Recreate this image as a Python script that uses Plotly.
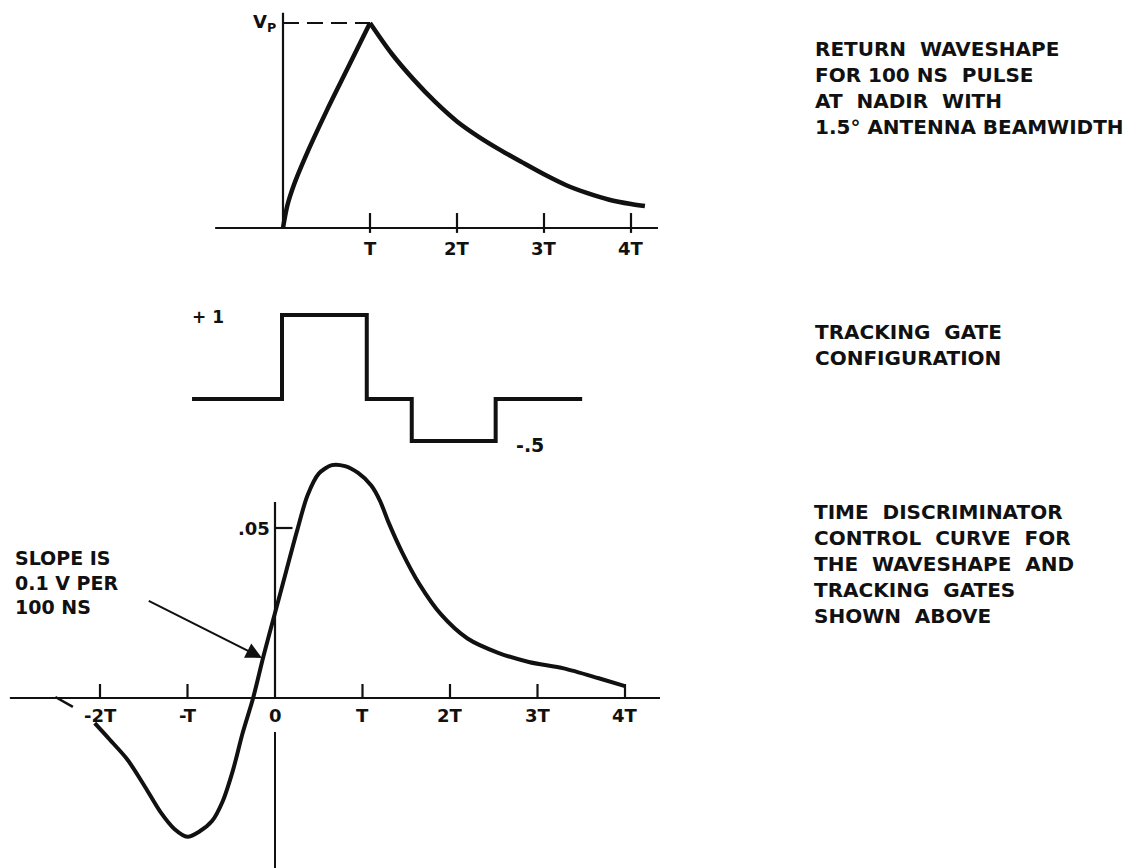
import plotly.graph_objects as go

# ---------------- data ----------------
# Panel 1: return waveshape (x in units of T, y in units of Vp)
wave_x = [0, 0.05, 0.125, 0.25, 0.5, 0.75, 1.0,
          1.25, 1.5, 1.75, 2.0, 2.25, 2.5, 2.75, 3.0, 3.25, 3.5, 3.75, 4.0, 4.16]
wave_y = [0, 0.11, 0.21, 0.34, 0.57, 0.785, 1.0,
          0.85, 0.725, 0.615, 0.52, 0.445, 0.38, 0.32, 0.262, 0.21, 0.17, 0.138, 0.117, 0.107]
wave_ticks = [1, 2, 3, 4]
wave_tick_labels = ["T", "2T", "3T", "4T"]

# Panel 2: tracking gate (step levels)
gate_x = [-1.04, 0, 0.98, 1.5, 2.47, 3.47]
gate_y = [0, 1, 0, -0.5, 0, 0]

# Panel 3: time discriminator control curve (x in T, y in volts)
disc_x = [-2.06, -1.89, -1.69, -1.5, -1.31, -1.15, -1.0, -0.86, -0.72, -0.6, -0.48,
          -0.37, -0.25, -0.13, 0, 0.13, 0.25, 0.37, 0.5, 0.65, 0.8, 0.95, 1.1, 1.2,
          1.3, 1.45, 1.65, 1.9, 2.2, 2.55, 2.9, 3.3, 3.7, 4.0]
disc_y = [-0.0074, -0.0122, -0.0180, -0.0255, -0.0335, -0.0385, -0.0408, -0.0392, -0.0362,
          -0.0305, -0.0212, -0.0103, 0, 0.0125, 0.025, 0.0375, 0.049, 0.0595, 0.0660, 0.0685,
          0.0682, 0.0662, 0.0625, 0.0580, 0.0515, 0.0430, 0.0335, 0.0245, 0.0175, 0.0133,
          0.0106, 0.0087, 0.0058, 0.0035]
disc_ticks = [-2, -1, 0, 1, 2, 3, 4]
disc_tick_labels = ["-2T", "-T", "0", "T", "2T", "3T", "4T"]
disc_ytick = 0.05
disc_ytick_label = ".05"

W, H = 1137, 868
OFF = 8  # page margin of the html body
INK = "#111111"
FONT = "DejaVu Sans"

# panel geometry in screen pixels: rows, origin pixel, scale (px per unit)
panels = {
    1: dict(top=8, bottom=262, x0=283, kx=87.0, y0=228, ky=205.0),
    2: dict(top=262, bottom=462, x0=282, kx=86.5, y0=399, ky=84.0),
    3: dict(top=462, bottom=876, x0=275, kx=87.5, y0=698, ky=3400.0),
}

fig = go.Figure()

def ax_name(i, k):
    return k if i == 1 else f"{k}{i}"

layout_axes = {}
for i, p in panels.items():
    top, bot = p["top"] - OFF, p["bottom"] - OFF
    x0, y0 = p["x0"] - OFF, p["y0"] - OFF
    xr = [(0 - x0) / p["kx"], (W - x0) / p["kx"]]
    yr = [(y0 - bot) / p["ky"], (y0 - top) / p["ky"]]
    yd = [max(0.0, 1 - bot / H), min(1.0, 1 - top / H)]
    common = dict(visible=False, showgrid=False, zeroline=False, fixedrange=True)
    layout_axes[ax_name(i, "xaxis")] = dict(range=xr, domain=[0, 1], anchor=ax_name(i, "y"), **common)
    layout_axes[ax_name(i, "yaxis")] = dict(range=yr, domain=yd, anchor=ax_name(i, "x"), **common)

def line(i, xs, ys, width=2.0, dash=None, shape="linear", smoothing=1.0):
    ln = dict(color=INK, width=width, dash=dash, shape=shape)
    if shape == "spline":
        ln["smoothing"] = smoothing
    fig.add_trace(go.Scatter(x=xs, y=ys, mode="lines", xaxis=ax_name(i, "x"), yaxis=ax_name(i, "y"),
                             line=ln, hoverinfo="skip", showlegend=False))

def label(i, x, y, text, size=18, xanchor="center", yanchor="middle", align="center"):
    fig.add_annotation(x=x, y=y, xref=ax_name(i, "x"), yref=ax_name(i, "y"), text=text,
                       showarrow=False, xanchor=xanchor, yanchor=yanchor, align=align,
                       font=dict(family=FONT, size=size, color=INK, weight="bold"))

# ---------- Panel 1 ----------
p = panels[1]
line(1, [-0.78, 4.31], [0, 0], width=2.2)
line(1, [0, 0], [0, 1.05], width=2.2)
peak = wave_y.index(max(wave_y))
line(1, [0, wave_x[peak]], [wave_y[peak], wave_y[peak]], width=2, dash="16px,8px")
tx, ty = [], []
for t in wave_ticks:
    tx += [t, t, None]
    ty += [-0.024, 0.073, None]
line(1, tx, ty, width=2.2)
line(1, wave_x[:peak + 1], wave_y[:peak + 1], width=4.5, shape="spline", smoothing=0.9)
line(1, wave_x[peak:], wave_y[peak:], width=4.5, shape="spline", smoothing=0.9)
for t, lab in zip(wave_ticks, wave_tick_labels):
    label(1, t, -20 / p["ky"], lab, size=18)
label(1, -0.06, 1.0, "V<sub>P</sub>", size=18, xanchor="right")

# ---------- Panel 2 ----------
line(2, gate_x, gate_y, width=4, shape="hv")
label(2, -0.855, 0.976, "+ 1", size=17)
label(2, 2.87, -0.55, "-.5", size=19)

# ---------- Panel 3 ----------
p = panels[3]
line(3, [-3.03, 4.4], [0, 0], width=2.2)
line(3, [0, 0], [(p["y0"] - 502) / p["ky"], 0], width=2.2)
line(3, [0, 0], [(p["y0"] - 732) / p["ky"], (p["y0"] - 880) / p["ky"]], width=2.0)
line(3, [0, 0.2], [disc_ytick, disc_ytick], width=2.2)
tx, ty = [], []
for t in disc_ticks:
    if t == 0:
        continue
    tx += [t, t, None]
    ty += [0, 14 / p["ky"], None]
line(3, tx, ty, width=2.2)
line(3, [-2.51, -2.31], [0.0003, -0.0026], width=2.5)
line(3, disc_x, disc_y, width=4, shape="spline", smoothing=0.8)
for t, lab in zip(disc_ticks, disc_tick_labels):
    label(3, t, -17 / p["ky"], lab, size=18)
label(3, -0.04, disc_ytick, disc_ytick_label, size=18, xanchor="right")
label(3, -2.99, 0.0341, "SLOPE IS<br>0.1 V PER<br>100 NS", size=19, xanchor="left", align="left")
fig.add_annotation(x=-0.149, y=0.0118, ax=-1.46, ay=0.0288, xref="x3", yref="y3",
                   axref="x3", ayref="y3", text="", showarrow=True, arrowhead=2,
                   arrowsize=1.6, arrowwidth=2, arrowcolor=INK)

# ---------- side captions (paper coords) ----------
def caption(xpx, ypx_center, lines_):
    fig.add_annotation(x=(xpx - OFF) / W, y=1 - (ypx_center - OFF) / H, xref="paper", yref="paper",
                       text="<br>".join(lines_), showarrow=False, xanchor="left",
                       yanchor="middle", align="left",
                       font=dict(family=FONT, size=20, color=INK, weight="bold"))

caption(813, 88, ["RETURN  WAVESHAPE", "FOR 100 NS  PULSE", "AT  NADIR  WITH", "1.5° ANTENNA BEAMWIDTH"])
caption(813, 345, ["TRACKING  GATE", "CONFIGURATION"])
caption(812, 564, ["TIME  DISCRIMINATOR", "CONTROL  CURVE  FOR", "THE  WAVESHAPE  AND",
                   "TRACKING  GATES", "SHOWN  ABOVE"])

fig.update_layout(width=W, height=H, margin=dict(l=0, r=0, t=0, b=0),
                  paper_bgcolor="white", plot_bgcolor="rgba(0,0,0,0)",
                  showlegend=False, **layout_axes)

fig.write_html("out.html")
